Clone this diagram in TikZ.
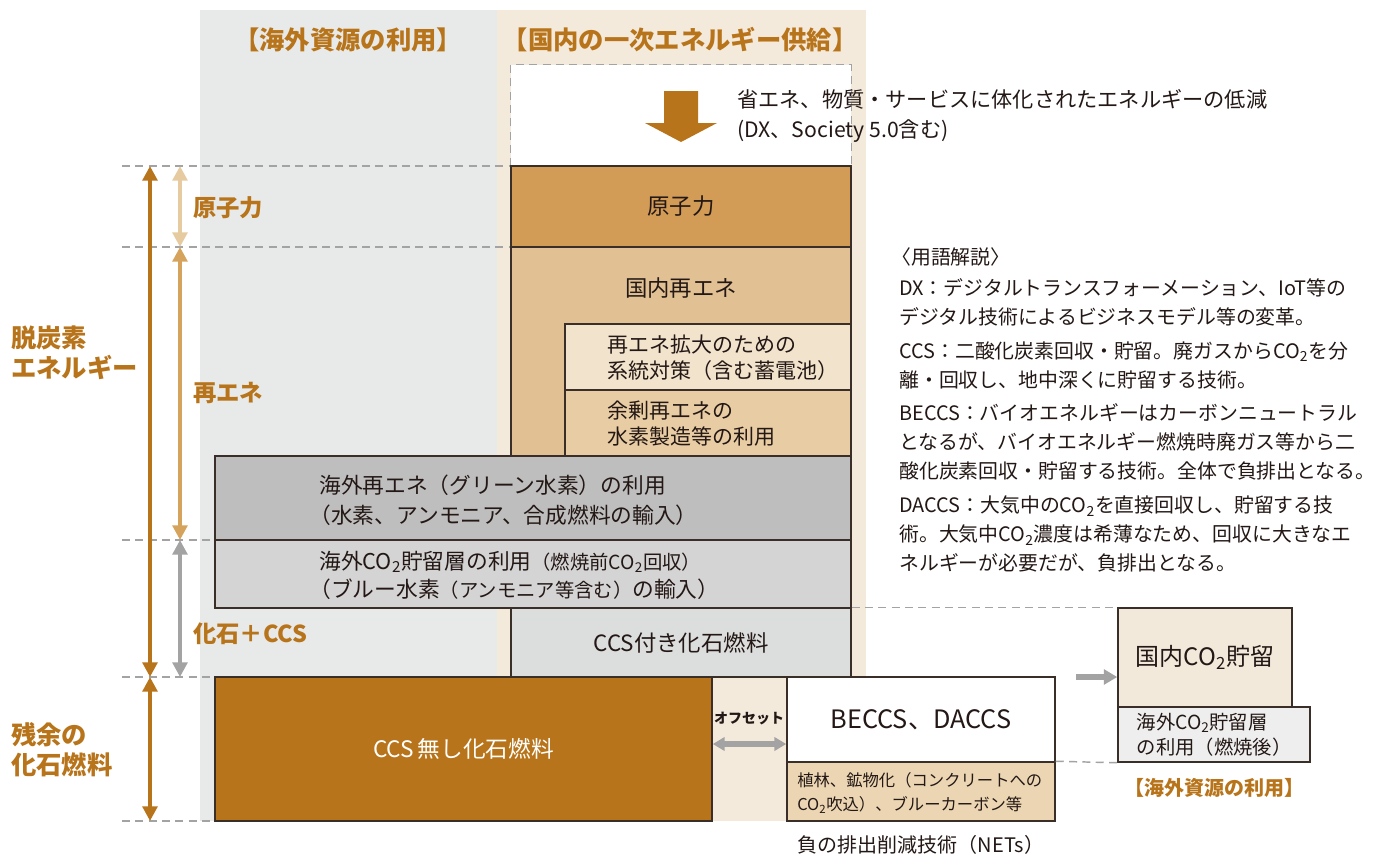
\documentclass[tikz,border=0pt]{standalone}
\usepackage{fontspec}
\setmainfont{Noto Sans CJK JP}
\usetikzlibrary{arrows.meta,fit}
\definecolor{brn}{HTML}{B8741A}
\definecolor{ink}{HTML}{231815}
\definecolor{edge}{HTML}{3A2F28}
\definecolor{greybg}{HTML}{E8EAE9}
\definecolor{beigebg}{HTML}{F4EADC}
\definecolor{genshic}{HTML}{D29C56}
\definecolor{saienec}{HTML}{E1C194}
\definecolor{kakudaic}{HTML}{F2E3CD}
\definecolor{yojoc}{HTML}{E8CCA3}
\definecolor{kaisaic}{HTML}{BEBEBE}
\definecolor{kaico2c}{HTML}{D4D4D4}
\definecolor{ccsfc}{HTML}{DCDDDD}
\definecolor{shokuc}{HTML}{EBD5B3}
\definecolor{domc}{HTML}{F3E9DB}
\definecolor{ovc}{HTML}{EEEEEE}
\definecolor{guidec}{HTML}{A3A3A3}
\definecolor{arrlight}{HTML}{E6CBA0}
\definecolor{arrtan}{HTML}{D6A35D}
\definecolor{arrgrey}{HTML}{A3A3A3}
\newcommand{\fsz}[2]{\fontsize{#1pt}{#2pt}\selectfont}
\newcommand{\COtwo}{CO\textsubscript{2}}
\begin{document}
\begin{tikzpicture}[x=0.75pt,y=-0.75pt,
 box/.style={draw=edge,line width=1.1pt,inner sep=0pt},
 lbl/.style={inner sep=0pt,text=ink,align=left},
 side/.style={inner sep=0pt,text=brn,font=\bfseries\fsz{19}{22.5},align=left},
 sidesm/.style={inner sep=0pt,text=brn,font=\bfseries\fsz{17.5}{20},anchor=west},
 guide/.style={draw=guidec,line width=1.1pt,dash pattern=on 6pt off 4pt},
 varrow/.style={line width=3pt,{Triangle[width=11pt,length=11pt]}-{Triangle[width=11pt,length=11pt]}},
 garrow/.style={draw=arrgrey,line width=4pt},
 gl/.style={inner sep=0pt,text=ink,align=left,anchor=west,font=\fsz{14.9}{21.75}},
]
\useasboundingbox (0,0) rectangle (1383,857);
\fill[white] (0,0) rectangle (1383,857);
% background panels
\fill[greybg] (200,10) rectangle (497,821);
\fill[beigebg] (497,10) rectangle (866,821);

% headings
\node[inner sep=0pt,text=brn,font=\bfseries\fsz{19}{22}] (headL) at (348,40) {【海外資源の利用】};
\node[inner sep=0pt,text=brn,font=\bfseries\fsz{19}{22}] (headR) at (680,40) {【国内の一次エネルギー供給】};

% dashed box with big arrow
\node[fit={(511,65)(851,166)},inner sep=0pt,fill=white] (dxbox) {};
\draw[guide] (dxbox.south west) -- (dxbox.north west) -- (dxbox.north east) -- (dxbox.south east);
\fill[brn] (664,91) -- (698,91) -- (698,123) -- (717,123) -- (681,142) -- (645,123) -- (664,123) -- cycle;
\node[lbl,anchor=west,font=\fsz{15.9}{22.5}] (dxtext) at (737,116) {省エネ、物質・サービスに体化されたエネルギーの低減\\(DX、Society 5.0含む)};

% guide lines (left)
\coordinate (g1) at (122,166); \coordinate (g2) at (122,247);
\coordinate (g3) at (122,540); \coordinate (g4) at (122,677); \coordinate (g5) at (122,821);
\draw[guide] (g1) -- (511,166);
\draw[guide] (g2) -- (511,247);
\draw[guide] (g3) -- (215,540);
\draw[guide] (g4) -- (215,677);
\draw[guide] (g5) -- (215,821);

% domestic column boxes
\node[box,fill=genshic,fit={(511,166)(851,247)}] (genshi) {};
\node[lbl,font=\fsz{16.8}{20}] (tGenshi) at (genshi.center) {原子力};
\node[box,fill=saienec,fit={(511,247)(851,456)}] (saiene) {};
\node[lbl,font=\fsz{16.8}{20}] (tSaiene) at (681,288) {国内再エネ};
\node[box,fill=kakudaic,fit={(565,324)(851,390)}] (kakudai) {};
\node[lbl,anchor=west,font=\fsz{15.75}{19.5}] (tKakudai) at (607,358) {再エネ拡大のための\\系統対策（含む蓄電池）};
\node[box,fill=yojoc,fit={(565,390)(851,456)}] (yojo) {};
\node[lbl,anchor=west,font=\fsz{15.75}{19.5}] (tYojo) at (607,424) {余剰再エネの\\水素製造等の利用};

% overseas boxes
\node[box,fill=kaisaic,fit={(215,456)(851,540)}] (kaisai) {};
\node[lbl,anchor=west,font=\fsz{16.3}{22.5}] (tKaisai) at (319,500) {海外再エネ（グリーン水素）の利用\\\hspace{-0.45em}（水素、アンモニア、合成燃料の輸入）};
\node[box,fill=kaico2c,fit={(215,540)(851,608)}] (kaico2) {};
\node[lbl,anchor=west,font=\fsz{16.3}{21}] (tKaico2) at (319,575) {海外\COtwo 貯留層の利用{\fsz{14.5}{21}（燃焼前\COtwo 回収）}\\\hspace{-0.45em}（ブルー水素{\fsz{14.5}{21}（アンモニア等含む）}の輸入）};
\node[box,fill=ccsfc,fit={(511,608)(851,677)}] (ccsf) {};
\node[lbl,font=\fsz{16.8}{20}] (tCcsf) at (ccsf.center) {CCS付き化石燃料};
\node[box,fill=brn,fit={(215,677)(712,821)}] (noccs) {};
\node[lbl,text=white,font=\fsz{17}{20}] (tNoccs) at (noccs.center) {CCS\,無し化石燃料};

% NETs
\node[box,fill=white,fit={(787,677)(1055,762)}] (beccs) {};
\node[lbl,font=\fsz{19}{22}] (tBeccs) at (beccs.center) {BECCS、DACCS};
\node[box,fill=shokuc,fit={(787,762)(1055,821)}] (shoku) {};
\node[lbl,anchor=west,font=\fsz{12.25}{18}] (tShoku) at (797,793) {植林、鉱物化（コンクリートへの\\\COtwo 吹込）、ブルーカーボン等};
\node[lbl,font=\fsz{15}{18}] (nets) at (921,845) {負の排出削減技術（NETs）};
\node[inner sep=0pt,text=ink,font=\bfseries\fsz{10.5}{12}] (offset) at (749,719) {オフセット};
\coordinate (offy) at (0,744);
\draw[garrow,{Triangle[width=10pt,length=9pt]}-{Triangle[width=10pt,length=9pt]}] (noccs.east |- offy) -- (beccs.west |- offy);

% right side storage
\node[box,fill=domc,fit={(1118,608)(1292,707)}] (dom) {};
\node[lbl,font=\fsz{18}{20}] (tDom) at (dom.center) {国内\COtwo 貯留};
\node[box,fill=ovc,fit={(1118,707)(1310,762)}] (ov) {};
\node[lbl,font=\fsz{14.5}{18.75}] (tOv) at (ov.center) {海外\COtwo 貯留層\\の利用（燃焼後）};
\node[inner sep=0pt,text=brn,font=\bfseries\fsz{15}{18}] (headR2) at (1214,788) {【海外資源の利用】};
\coordinate (arrS) at (1076,677);
\draw[garrow,-{Triangle[width=11pt,length=10pt]}] (arrS) -- (arrS -| dom.west);
\draw[guide] (ccsf.north east) -- (dom.north west);
\draw[guide] (shoku.north east) -- (ov.south west);

% left vertical arrows
\coordinate (a1) at (150,166); \coordinate (a2) at (150,677); \coordinate (a3) at (150,821);
\draw[varrow,brn] (a1) -- (a2);
\draw[varrow,brn] (a2) -- (a3);
\coordinate (b1) at (180,166); \coordinate (b2) at (180,247);
\coordinate (b3) at (180,540); \coordinate (b4) at (180,677);
\draw[varrow,arrlight] (b1) -- (b2);
\draw[varrow,arrtan] (b2) -- (b3);
\draw[varrow,arrgrey] (b3) -- (b4);

% left labels
\node[side,anchor=west] (decarb) at (11,353) {脱炭素\\エネルギー};
\node[side,anchor=west] (resid) at (11,750) {残余の\\化石燃料};
\node[sidesm] (lGen) at (193,208) {原子力};
\node[sidesm] (lRe) at (193,393) {再エネ};
\node[sidesm] (lFos) at (193,634) {化石＋CCS};

% glossary
\node[gl] (gHead) at (891,257) {〈用語解説〉};
\node[gl] (gDX) at (899,302) {DX：デジタルトランスフォーメーション、IoT等の\\デジタル技術によるビジネスモデル等の変革。};
\node[gl] (gCCS) at (899,365) {CCS：二酸化炭素回収・貯留。廃ガスから\COtwo を分\\離・回収し、地中深くに貯留する技術。};
\node[gl] (gBECCS) at (899,442) {BECCS：バイオエネルギーはカーボンニュートラル\\となるが、バイオエネルギー燃焼時廃ガス等から二\\酸化炭素回収・貯留する技術。全体で負排出となる。};
\node[gl] (gDACCS) at (899,534) {DACCS：大気中の\COtwo を直接回収し、貯留する技\\術。大気中\COtwo 濃度は希薄なため、回収に大きなエ\\ネルギーが必要だが、負排出となる。};
\end{tikzpicture}
\end{document}
